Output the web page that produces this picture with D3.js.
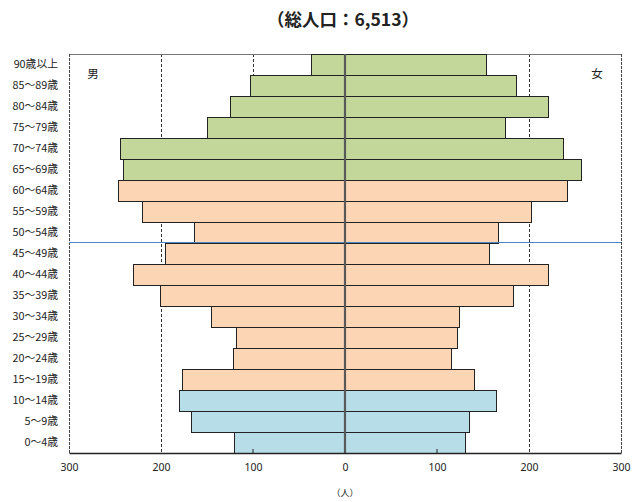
<!DOCTYPE html>
<html>
<head>
<meta charset="utf-8">
<script src="https://cdn.jsdelivr.net/npm/d3@7"></script>
<style>
  body { margin: 0; background: #fff; }
  svg { display: block; font-family: "Noto Sans CJK JP", "Noto Sans", sans-serif; }
</style>
</head>
<body>
<div id="chart"></div>
<script>
// age groups top to bottom
const ageGroups = ['90歳以上','85～89歳','80～84歳','75～79歳','70～74歳','65～69歳','60～64歳','55～59歳','50～54歳',
  '45～49歳','40～44歳','35～39歳','30～34歳','25～29歳','20～24歳','15～19歳','10～14歳','5～9歳','0～4歳'];
const male   = [36,103,125,150,244,241,246,220,164,195,230,201,145,118,121,177,180,167,120];
const female = [154,186,221,174,237,257,242,203,167,157,221,183,124,122,116,141,165,135,131];
// group per row: elderly / working / young
const groupOf = ['old','old','old','old','old','old','work','work','work','work','work','work','work','work','work','work','young','young','young'];
const tickValues = [-300,-200,-100,0,100,200,300];
const gridValues = [-200,-100,100,200];
const totalPop = '6,513';

const width = 635, height = 502;
const margin = {top: 54, right: 14, bottom: 49, left: 69};

const fills = {old: '#c4d79b', work: '#fcd5b5', young: '#b7dde8'};

const svg = d3.select('#chart').append('svg')
  .attr('width', width).attr('height', height);

const x = d3.scaleLinear().domain([-300, 300]).range([margin.left, width - margin.right]);
const y = d3.scaleBand().domain(ageGroups).range([margin.top, height - margin.bottom]).padding(0);

// title
svg.append('text')
  .attr('x', x(0) - 2).attr('y', 26)
  .attr('text-anchor', 'middle')
  .attr('font-size', 17.5).attr('font-weight', 'bold').attr('fill', '#222')
  .text(`（総人口：${totalPop}）`);

// gridlines behind bars
svg.selectAll('.grid').data(gridValues).enter().append('line')
  .attr('x1', d => x(d)).attr('x2', d => x(d))
  .attr('y1', margin.top).attr('y2', height - margin.bottom)
  .attr('stroke', '#333').attr('stroke-width', 1).attr('stroke-dasharray', '3,2')
  .attr('shape-rendering', 'crispEdges');

// frame: top solid, sides dashed
svg.append('line')
  .attr('x1', x(-300)).attr('x2', x(300)).attr('y1', margin.top).attr('y2', margin.top)
  .attr('stroke', '#777').attr('stroke-width', 1).attr('shape-rendering', 'crispEdges');
[-300, 300].forEach(v => {
  svg.append('line')
    .attr('x1', x(v)).attr('x2', x(v)).attr('y1', margin.top).attr('y2', height - margin.bottom)
    .attr('stroke', '#444').attr('stroke-width', 1).attr('stroke-dasharray', '3,1')
    .attr('shape-rendering', 'crispEdges');
});

const rows = ageGroups.map((a, i) => ({age: a, m: male[i], f: female[i], g: groupOf[i]}));

svg.selectAll('.male').data(rows).enter().append('rect')
  .attr('x', d => x(-d.m)).attr('width', d => x(0) - x(-d.m))
  .attr('y', d => y(d.age)).attr('height', y.bandwidth())
  .attr('fill', d => fills[d.g]).attr('stroke', '#222').attr('stroke-width', 1)
  .attr('shape-rendering', 'crispEdges');

svg.selectAll('.female').data(rows).enter().append('rect')
  .attr('x', x(0)).attr('width', d => x(d.f) - x(0))
  .attr('y', d => y(d.age)).attr('height', y.bandwidth())
  .attr('fill', d => fills[d.g]).attr('stroke', '#222').attr('stroke-width', 1)
  .attr('shape-rendering', 'crispEdges');

// blue line between 50-54 and 45-49
const blueY = Math.round(y('45～49歳')) - 0.5;
svg.append('line')
  .attr('x1', x(-300)).attr('x2', x(300))
  .attr('y1', blueY).attr('y2', blueY)
  .attr('stroke', '#4a86c8').attr('stroke-width', 1.2);

// center axis
svg.append('line')
  .attr('x1', x(0)).attr('x2', x(0)).attr('y1', margin.top).attr('y2', height - margin.bottom)
  .attr('stroke', '#595959').attr('stroke-width', 2.2);

// bottom axis
const xAxis = d3.axisBottom(x).tickValues(tickValues)
  .tickFormat(d => Math.abs(d)).tickSize(0).tickPadding(11);
const ax = svg.append('g')
  .attr('transform', `translate(0,${height - margin.bottom})`)
  .call(xAxis);
ax.select('.domain').attr('stroke', '#222').attr('stroke-width', 1.3);
ax.selectAll('text').attr('font-size', 10.5).attr('fill', '#222')
  .attr('font-family', '"Noto Sans", sans-serif');
// small inner ticks at ±100
ax.selectAll('.inner').data([-100, 100]).enter().append('line')
  .attr('x1', d => x(d)).attr('x2', d => x(d)).attr('y1', 0).attr('y2', -4)
  .attr('stroke', '#222');

// age labels
svg.selectAll('.age').data(ageGroups).enter().append('text')
  .attr('x', margin.left - 11)
  .attr('y', d => y(d) + y.bandwidth() / 2)
  .attr('dy', '0.35em').attr('text-anchor', 'end')
  .attr('font-size', 10.8).attr('fill', '#222')
  .text(d => d);

// 男 / 女
svg.append('text').attr('x', 93).attr('y', 78).attr('text-anchor', 'middle')
  .attr('font-size', 11.5).attr('fill', '#222').text('男');
svg.append('text').attr('x', 597).attr('y', 78).attr('text-anchor', 'middle')
  .attr('font-size', 11.5).attr('fill', '#222').text('女');

// unit
svg.append('text').attr('x', x(0)).attr('y', 496).attr('text-anchor', 'middle')
  .attr('font-size', 9).attr('fill', '#222').text('（人）');
</script>
</body>
</html>
